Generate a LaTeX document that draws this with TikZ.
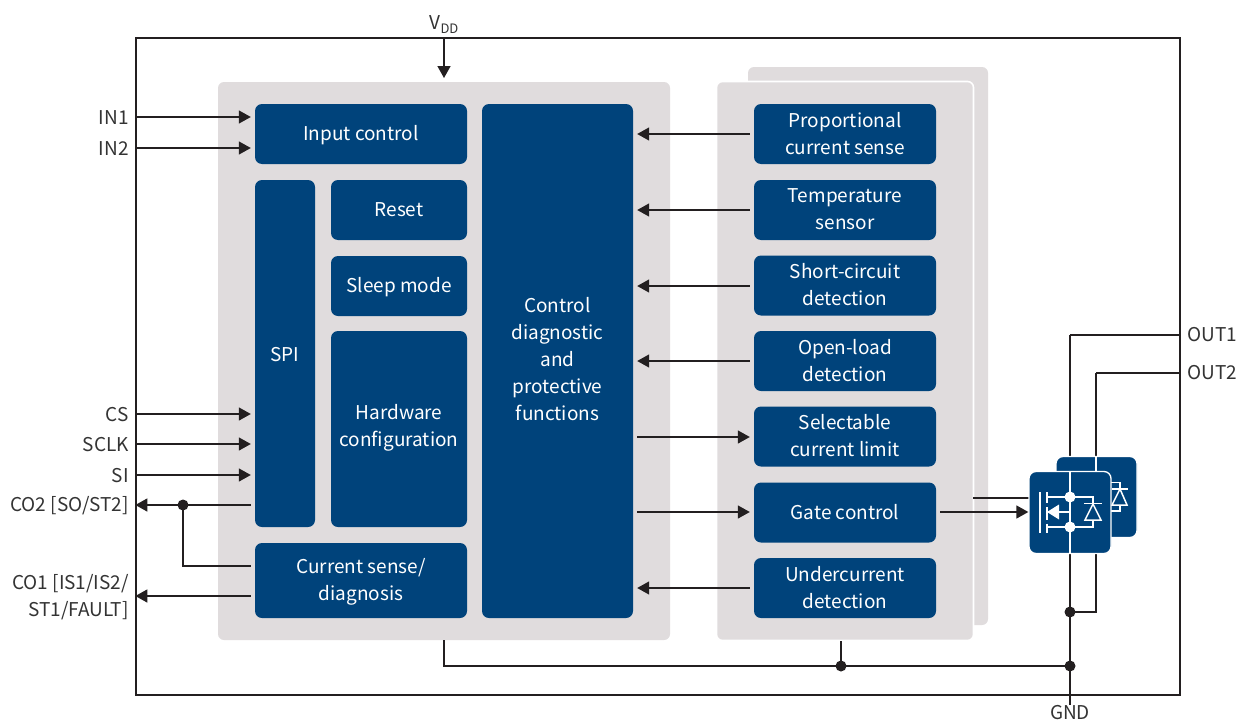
\documentclass[tikz,border=0pt]{standalone}
\usepackage{fontspec}
\setmainfont{Noto Sans CJK SC}
\usetikzlibrary{arrows.meta,calc}
\definecolor{bluebox}{HTML}{00437B}
\definecolor{grayback}{HTML}{E0DCDD}
\definecolor{inkline}{HTML}{231F20}
\definecolor{txt}{HTML}{333333}
\newcommand\lowfill[1]{\rule[-#1]{0pt}{0pt}}
\tikzset{
  x=1pt,y=-1pt,
  panel/.style={rectangle,fill=grayback,rounded corners=6pt,inner sep=0pt},
  block/.style={rectangle,fill=bluebox,text=white,rounded corners=7pt,inner sep=0pt,align=center,
    font=\fontsize{19}{27}\selectfont},
  single/.style={text height=15pt,text depth=3pt},
  rblock/.style={block,minimum width=182pt,minimum height=60pt},
  pin/.style={inner sep=0pt,text=txt,align=right,font=\fontsize{19}{27}\selectfont},
  wire/.style={draw=inkline,line width=1.5pt},
  arrin/.style={wire,-{Triangle[length=12pt,width=13pt]},shorten >=4pt},
  arrout/.style={wire,-{Triangle[length=12pt,width=13pt]},shorten <=4pt},
  arrboth/.style={wire,-{Triangle[length=12pt,width=13pt]},shorten <=4pt,shorten >=4pt},
  tailgap/.style={wire,shorten <=4pt},
  dot/.style={circle,fill=inkline,minimum size=11pt,inner sep=0pt},
  fetbox/.style={rectangle,fill=bluebox,draw=white,line width=1.3pt,rounded corners=7pt,inner sep=0pt,minimum size=82pt},
  fetline/.style={draw=white,line width=1.5pt},
}
\begin{document}
\begin{tikzpicture}
\useasboundingbox (0,0) rectangle (1240,720);
\fill[white] (0,0) rectangle (1240,720);
% frame
\node[draw=inkline,line width=1.3pt,minimum width=1044pt,minimum height=657pt,inner sep=0pt] (frame) at (658,366.5) {};
% panels
\node[panel,minimum width=240pt,minimum height=558pt] (rightback) at (868,346) {};
\node[panel,draw=white,line width=1.6pt,minimum width=257pt,minimum height=559pt] (rightfront) at (845,361) {};
\node[panel,minimum width=452pt,minimum height=558pt] (leftpanel) at (444,361) {};
% blocks
\node[block,single,minimum width=212pt,minimum height=60pt] (input) at (361,134) {Input control};
\node[block,single,text height=18pt,minimum width=60pt,minimum height=347pt] (spi) at (285,353.5) {SPI};
\node[block,single,minimum width=136pt,minimum height=60pt] (reset) at (399,210) {Reset};
\node[block,single,minimum width=136pt,minimum height=60pt] (sleep) at (399,286) {Sleep mode};
\node[block,minimum width=136pt,minimum height=196pt] (hw) at (399,429) {Hardware\\configuration\lowfill{7pt}};
\node[block,minimum width=212pt,minimum height=75pt] (csd) at (361,580.5) {\rule{0pt}{17pt}Current sense/\\diagnosis};
\node[block,minimum width=151pt,minimum height=514pt] (ctrl) at (557.5,361) {Control\\diagnostic\\and\\protective\\functions\lowfill{4pt}};
\node[rblock] (prop) at (845,134) {Proportional\\current sense\lowfill{2pt}};
\node[rblock] (temp) at (845,210) {Temperature\\sensor\lowfill{2pt}};
\node[rblock] (short) at (845,285.5) {Short-circuit\\detection\lowfill{2pt}};
\node[rblock] (open) at (845,361) {Open-load\\detection\lowfill{2pt}};
\node[rblock] (sel) at (845,436.5) {Selectable\\current limit\lowfill{2pt}};
\node[rblock,single,text height=17pt] (gate) at (845,512.5) {Gate control};
\node[rblock] (under) at (845,588) {Undercurrent\\detection\lowfill{2pt}};
% wire levels
\coordinate (yin1) at (129,117);
\coordinate (yin2) at (129,148);
\coordinate (ycs) at (129,414);
\coordinate (ysclk) at (129,444);
\coordinate (ysi) at (129,475);
\coordinate (yco2) at (129,505);
\coordinate (yco1) at (129,596);
% pin labels
\node[pin,anchor=south] (vdd) at (444,34) {V\raisebox{-4pt}{\fontsize{13}{13}\selectfont DD}};
\node[pin,anchor=east,yshift=-1pt] (in1) at (yin1) {IN1};
\node[pin,anchor=east,yshift=-1pt] (in2) at (yin2) {IN2};
\node[pin,anchor=east,yshift=-1pt] (cs) at (ycs) {CS};
\node[pin,anchor=east,yshift=-1pt] (sclk) at (ysclk) {SCLK};
\node[pin,anchor=east,yshift=-1pt] (si) at (ysi) {SI};
\node[pin,anchor=east,yshift=-1pt] (co2) at (yco2) {CO2 [SO/ST2]};
\node[pin,anchor=east,yshift=-1pt] (co1) at (yco1) {CO1 [IS1/IS2/\\ST1/FAULT]};
\node[pin,anchor=west] (out1) at (1187,335) {OUT1};
\node[pin,anchor=west] (out2) at (1187,373) {OUT2};
\node[pin,anchor=north] (gnd) at (1070,705) {GND};
% internal coordinates
\coordinate (vddtip) at (444,82);
\coordinate (busleft) at (444,666);
\coordinate (busmid) at (841,666);
\coordinate (busright) at (1070,666);
\coordinate (fetjoin) at (1070,612);
\coordinate (fetcol) at (1070,335);
\coordinate (fetcolb) at (1096,373);
\coordinate (gatea) at (973,498);
\coordinate (cotap) at (183,505);
\coordinate (csdtap) at (183,566);
% input arrows
\draw[arrin] (frame.north -| vdd) -- (vddtip);
\draw[arrin] (frame.west |- yin1) -- (input.west |- yin1);
\draw[arrin] (frame.west |- yin2) -- (input.west |- yin2);
\draw[arrin] (frame.west |- ycs) -- (spi.west |- ycs);
\draw[arrin] (frame.west |- ysclk) -- (spi.west |- ysclk);
\draw[arrin] (frame.west |- ysi) -- (spi.west |- ysi);
% output arrows
\draw[arrout] (spi.west |- yco2) -- (frame.west |- yco2);
\draw[arrout] (csd.west |- yco1) -- (frame.west |- yco1);
\draw[tailgap] (csd.west |- csdtap) -- (csdtap) -- (cotap);
% right column to control
\foreach \n/\yy in {prop/134,temp/210,short/286,open/361,under/588}{
  \draw[arrboth] (\n.west |- 0,\yy) -- (ctrl.east |- 0,\yy);
}
\draw[arrboth] (ctrl.east |- 0,437) -- (sel.west |- 0,437);
\draw[arrboth] (ctrl.east |- 0,512) -- (gate.west |- 0,512);
% bus and output wires
\draw[wire] (leftpanel.south -| busleft) -- (busleft) -- (busright);
\draw[wire] (rightfront.south -| busmid) -- (busmid);
\draw[wire] (fetcol) -- (frame.east |- fetcol);
\draw[wire] (fetcolb) -- (frame.east |- fetcolb);
\draw[wire] (fetcol) -- (frame.south -| fetcol) -- (gnd.north);
\draw[wire] (fetcolb) -- (fetcolb |- fetjoin) -- (fetjoin);
\draw[wire] (gatea) -- (1030,498);
% dots
\node[dot] (d1) at (cotap) {};
\node[dot] (d2) at (busmid) {};
\node[dot] (d3) at (busright) {};
\node[dot] (d4) at (fetjoin) {};
% MOSFET back
\node[fetbox,minimum size=81pt] (fetb) at (1096.5,497) {};
\draw[fetline] (1096,457) -- (1096,472);
\draw[fetline] (1110,482.5) -- (1120,482.5) -- (1120,511) -- (1110,511);
\draw[fetline,fill=bluebox,line join=miter] (1120,489) -- (1127,505) -- (1112,505) -- cycle;
\draw[fetline] (1112,489) -- (1128,489);
% MOSFET front
\node[fetbox] (fet) at (1070,512.5) {};
\draw[arrin,shorten >=0pt,shorten <=4pt] (gate.east |- 0,512) -- (fet.west |- 0,512);
\draw[fetline] (1070,472) -- (1070,553);
\draw[fetline] (1040,492) -- (1040,533);
\draw[fetline] (1047,492) -- (1047,503) (1047,507) -- (1047,520) (1047,523.5) -- (1047,533);
\draw[fetline] (1047,497) -- (1093,497) -- (1093,527) -- (1047,527);
\draw[fetline] (1059,512) -- (1070,512);
\fill[white] (1047,512) -- (1059,504.5) -- (1059,519.5) -- cycle;
\fill[white] (1070,497) circle (5.5pt) (1070,527) circle (5.5pt);
\draw[fetline,fill=bluebox,line join=miter] (1093,504) -- (1101,520) -- (1085,520) -- cycle;
\draw[fetline] (1084,503.5) -- (1102,503.5);
\end{tikzpicture}
\end{document}
